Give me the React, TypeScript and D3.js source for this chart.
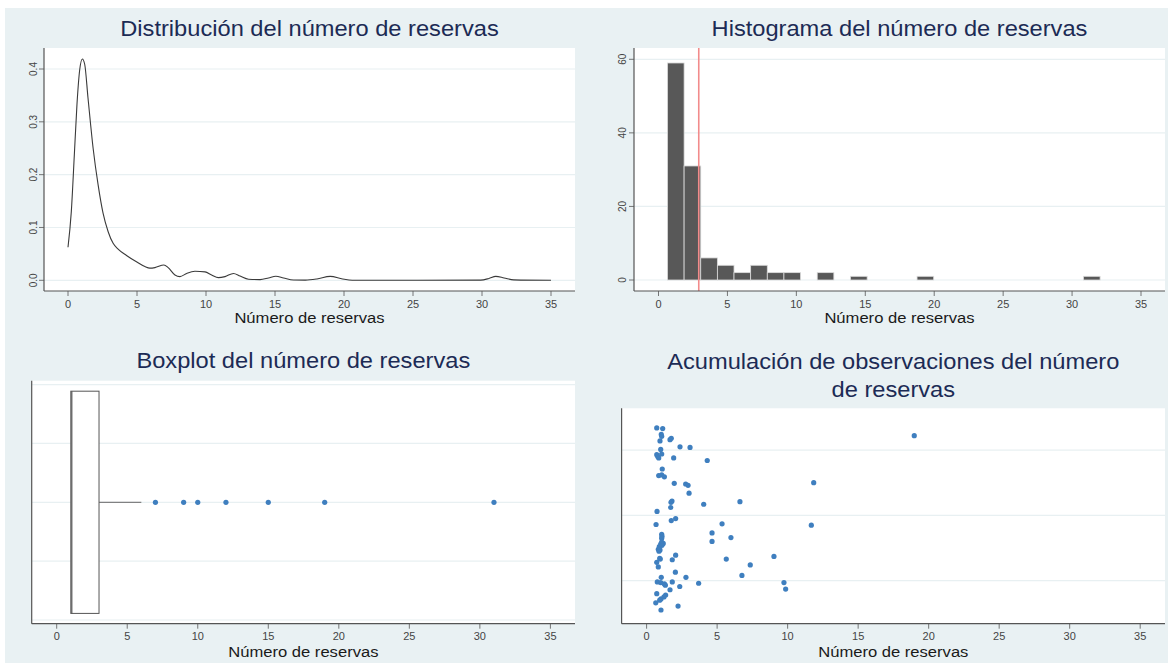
import React from "react";
import * as d3 from "d3";

// ---------- data ----------
const xTickValues = [0, 5, 10, 15, 20, 25, 30, 35];
const axisTitle = "Número de reservas";

// kernel density estimate of the number of bookings
const densityX = [0, 0.24, 0.46, 0.65, 0.85, 1.04, 1.21, 1.45, 1.82, 2.18, 2.54, 2.91, 3.27, 3.63, 4.24, 4.96, 5.57, 5.93, 6.3, 6.95, 7.26, 7.75, 8.11, 8.6, 9.2, 9.93, 10.41, 10.9, 11.38, 11.99, 12.47, 13.08, 13.92, 14.53, 15.06, 15.62, 16.34, 17.2, 18.04, 19.0, 19.9, 20.6, 25, 29.9, 30.5, 31.0, 31.6, 32.3, 35];
const densityY = [0.0626, 0.13, 0.238, 0.333, 0.399, 0.419, 0.409, 0.345, 0.25, 0.181, 0.127, 0.092, 0.07, 0.059, 0.047, 0.035, 0.026, 0.023, 0.024, 0.029, 0.024, 0.01, 0.007, 0.013, 0.017, 0.016, 0.01, 0.005, 0.007, 0.013, 0.008, 0.002, 0.0013, 0.0044, 0.0076, 0.0044, 0.0006, 0.0003, 0.0025, 0.0075, 0.0025, 0.0002, 0, 0.0004, 0.0035, 0.0075, 0.0045, 0.0008, 0];
const densityTicks = [0, 0.1, 0.2, 0.3, 0.4];
const densityTickLabels = ["0.0", "0.1", "0.2", "0.3", "0.4"];

// histogram bins (frequency)
const binStart = 0.65;
const binWidth = 1.207;
const binCounts = [59, 31, 6, 4, 2, 4, 2, 2, 0, 2, 0, 1, 0, 0, 0, 1, 0, 0, 0, 0, 0, 0, 0, 0, 0, 1];
const histTicks = [0, 20, 40, 60];
const meanBookings = 2.92;

// boxplot summary
const boxQuartiles = [1, 1, 3]; // q1, median, q3
const boxWhiskers = [1, 6];
const boxOutliers = [7, 9, 10, 12, 15, 19, 31];

// strip plot of individual observations (jittered vertical position)
const stripX = [0.72, 1.14, 1.04, 1.07, 0.95, 1.66, 1.75, 2.37, 3.08, 1.0, 0.72, 0.79, 0.86, 1.07, 1.92, 4.3, 1.11, 0.86, 1.07, 1.26, 1.96, 2.77, 2.94, 3.01, 11.85, 1.8, 1.73, 1.71, 4.05, 6.62, 0.74, 1.75, 2.06, 0.67, 5.35, 11.68, 1.07, 1.09, 1.07, 1.07, 1.18, 1.0, 1.09, 0.9, 0.83, 0.95, 0.88, 4.64, 4.64, 5.98, 0.93, 0.97, 1.82, 2.06, 0.72, 0.83, 5.65, 7.35, 9.03, 2.04, 6.76, 1.04, 0.76, 1.0, 1.26, 1.33, 1.82, 2.79, 2.35, 3.69, 9.74, 9.86, 1.66, 0.72, 1.35, 1.23, 1.02, 0.93, 0.65, 1.02, 2.23, 18.98];
const stripY = [3.34, 3.33, 3.24, 3.21, 3.14, 3.16, 3.18, 3.05, 3.04, 3.01, 2.93, 2.9, 2.88, 2.94, 2.88, 2.84, 2.71, 2.61, 2.62, 2.59, 2.49, 2.48, 2.46, 2.34, 2.5, 2.22, 2.2, 2.12, 2.17, 2.21, 2.06, 1.92, 1.95, 1.86, 1.87, 1.85, 1.71, 1.68, 1.65, 1.59, 1.57, 1.56, 1.54, 1.52, 1.48, 1.47, 1.45, 1.73, 1.6, 1.66, 1.34, 1.33, 1.32, 1.39, 1.28, 1.21, 1.33, 1.24, 1.37, 1.13, 1.08, 1.05, 0.98, 0.97, 0.95, 0.93, 0.98, 1.05, 0.91, 0.96, 0.97, 0.87, 0.86, 0.8, 0.78, 0.75, 0.72, 0.7, 0.66, 0.55, 0.61, 3.22];
const stripGrid = [1, 2, 3];

// ---------- style ----------
const FONT = "'Liberation Sans', Arial, Helvetica, sans-serif";
const BG = "#e9f1f3";
const GRID = "#e8f0f2";
const AXIS = "#555555";
const TITLE = "#1c2b55";
const DOT = "#3f7fbf";
const SX = 1.1; // horizontal text stretch

type TxtProps = {
  x: number;
  y: number;
  size: number;
  fill?: string;
  anchor?: "start" | "middle" | "end";
  sx?: number;
  children: React.ReactNode;
};

function Txt({ x, y, size, fill = "#222", anchor = "middle", sx = SX, children }: TxtProps) {
  return (
    <text
      transform={`translate(${x},${y}) scale(${sx},1)`}
      textAnchor={anchor}
      fontSize={size}
      fill={fill}
      fontFamily={FONT}
    >
      {children}
    </text>
  );
}

type FrameProps = {
  left: number;
  top: number;
  right: number;
  bottom: number;
  x: d3.ScaleLinear<number, number>;
  gridY: number[];
  yLabels?: { y: number; label: string }[];
  yLabelX?: number;
  title: string[];
  titleY: number[];
  tickLabelY: number;
  axisTitleY: number;
  children?: React.ReactNode;
};

function Frame(p: FrameProps) {
  const cx = (p.left + p.right) / 2;
  return (
    <g>
      <rect x={p.left} y={p.top} width={p.right - p.left} height={p.bottom - p.top} fill="#ffffff" />
      {p.gridY.map((gy, i) => (
        <line key={i} x1={p.left} x2={p.right} y1={gy} y2={gy} stroke={GRID} strokeWidth={1.2} />
      ))}
      {p.children}
      {/* axes */}
      <line x1={p.left} x2={p.right} y1={p.bottom} y2={p.bottom} stroke={AXIS} strokeWidth={1.2} />
      <line x1={p.left} x2={p.left} y1={p.top} y2={p.bottom} stroke={AXIS} strokeWidth={1.2} />
      {xTickValues.map((t) => (
        <g key={t}>
          <line x1={p.x(t)} x2={p.x(t)} y1={p.bottom} y2={p.bottom + 5} stroke={AXIS} strokeWidth={0.8} />
          <Txt x={p.x(t)} y={p.tickLabelY} size={10} fill="#444">
            {t}
          </Txt>
        </g>
      ))}
      {p.yLabels &&
        p.yLabels.map((d, i) => (
          <g key={i}>
            <line x1={p.left - 5} x2={p.left} y1={d.y} y2={d.y} stroke={AXIS} strokeWidth={0.8} />
            <text
              transform={`translate(${p.yLabelX},${d.y}) rotate(-90)`}
              textAnchor="middle"
              fontSize={10}
              fill="#444"
              fontFamily={FONT}
            >
              {d.label}
            </text>
          </g>
        ))}
      <Txt x={cx} y={p.axisTitleY} size={15.5} fill="#1a1a1a" sx={1.07}>
        {axisTitle}
      </Txt>
      {p.title.map((t, i) => (
        <Txt key={i} x={cx} y={p.titleY[i]} size={21.5} fill={TITLE}>
          {t}
        </Txt>
      ))}
    </g>
  );
}

export default function App() {
  // --- density panel ---
  const xTL = d3.scaleLinear().domain([0, 35]).range([68, 551]);
  const yTL = d3.scaleLinear().domain([0, 0.4]).range([280.3, 69]);
  const densityPts: [number, number][] = densityX.map((v, i) => [v, densityY[i]]);
  const densityPath =
    d3
      .line<[number, number]>()
      .x((d) => xTL(d[0]))
      .y((d) => yTL(d[1]))
      .curve(d3.curveMonotoneX)(densityPts) || "";

  // --- histogram panel ---
  const xTR = d3.scaleLinear().domain([0, 35]).range([658.5, 1141]);
  const yTR = d3.scaleLinear().domain([0, 60]).range([280, 59.3]);

  // --- boxplot panel ---
  const xBL = d3.scaleLinear().domain([0, 35]).range([56.7, 550.4]);
  const yBL = d3.scaleLinear().domain([0, 4]).range([620, 384.6]);
  const boxHalf = 1.888;
  const boxMid = 2;

  // --- strip panel ---
  const xBR = d3.scaleLinear().domain([0, 35]).range([646.6, 1140.2]);
  const yBR = d3.scaleLinear().domain([0.34, 3.64]).range([623.7, 408.3]);

  return (
    <svg
      width={1170}
      height={663}
      style={{ position: "absolute", left: 0, top: 0, display: "block" }}
    >
      <rect x={0} y={0} width={1170} height={663} fill="#ffffff" />
      <rect x={5} y={8} width={1163} height={655} fill={BG} />

      {/* Density */}
      <Frame
        left={44}
        top={48}
        right={575}
        bottom={291}
        x={xTL}
        gridY={densityTicks.map((t) => yTL(t))}
        yLabels={densityTicks.map((t, i) => ({ y: yTL(t), label: densityTickLabels[i] }))}
        yLabelX={37}
        title={["Distribución del número de reservas"]}
        titleY={[36]}
        tickLabelY={307.6}
        axisTitleY={323.3}
      >
        <path d={densityPath} fill="none" stroke="#3a3a3a" strokeWidth={1.1} />
      </Frame>

      {/* Histogram */}
      <Frame
        left={634}
        top={48}
        right={1165}
        bottom={291}
        x={xTR}
        gridY={histTicks.map((t) => yTR(t))}
        yLabels={histTicks.map((t) => ({ y: yTR(t), label: String(t) }))}
        yLabelX={626}
        title={["Histograma del número de reservas"]}
        titleY={[36]}
        tickLabelY={307.6}
        axisTitleY={323.3}
      >
        {binCounts.map((c, i) =>
          c > 0 ? (
            <rect
              key={i}
              x={xTR(binStart + i * binWidth)}
              y={yTR(c)}
              width={xTR(binStart + (i + 1) * binWidth) - xTR(binStart + i * binWidth)}
              height={yTR(0) - yTR(c)}
              fill="#585858"
              stroke="#dcdcdc"
              strokeWidth={0.8}
            />
          ) : null
        )}
        <line
          x1={xTR(meanBookings)}
          x2={xTR(meanBookings)}
          y1={48}
          y2={291}
          stroke="#f28b8b"
          strokeWidth={1.6}
        />
      </Frame>

      {/* Boxplot */}
      <Frame
        left={31.7}
        top={380.7}
        right={575}
        bottom={623.7}
        x={xBL}
        gridY={[0, 1, 2, 3, 4].map((t) => yBL(t))}
        title={["Boxplot del número de reservas"]}
        titleY={[367.5]}
        tickLabelY={639.6}
        axisTitleY={656.7}
      >
        <line
          x1={xBL(boxQuartiles[2])}
          x2={xBL(boxWhiskers[1])}
          y1={yBL(boxMid)}
          y2={yBL(boxMid)}
          stroke="#666"
          strokeWidth={1}
        />
        <rect
          x={xBL(boxQuartiles[0])}
          y={yBL(boxMid + boxHalf)}
          width={xBL(boxQuartiles[2]) - xBL(boxQuartiles[0])}
          height={yBL(boxMid - boxHalf) - yBL(boxMid + boxHalf)}
          fill="#ffffff"
          stroke="#555"
          strokeWidth={1}
        />
        <line
          x1={xBL(boxQuartiles[1]) + 1}
          x2={xBL(boxQuartiles[1]) + 1}
          y1={yBL(boxMid + boxHalf)}
          y2={yBL(boxMid - boxHalf)}
          stroke="#555"
          strokeWidth={1.2}
        />
        {boxOutliers.map((v, i) => (
          <circle key={i} cx={xBL(v)} cy={yBL(boxMid)} r={2.6} fill={DOT} />
        ))}
      </Frame>

      {/* Strip plot */}
      <Frame
        left={621.6}
        top={408.3}
        right={1165}
        bottom={623.7}
        x={xBR}
        gridY={stripGrid.map((t) => yBR(t))}
        title={["Acumulación de observaciones del número", "de reservas"]}
        titleY={[368.8, 396.8]}
        tickLabelY={639.6}
        axisTitleY={656.7}
      >
        {stripX.map((v, i) => (
          <circle key={i} cx={xBR(v)} cy={yBR(stripY[i])} r={2.6} fill={DOT} />
        ))}
      </Frame>
    </svg>
  );
}
